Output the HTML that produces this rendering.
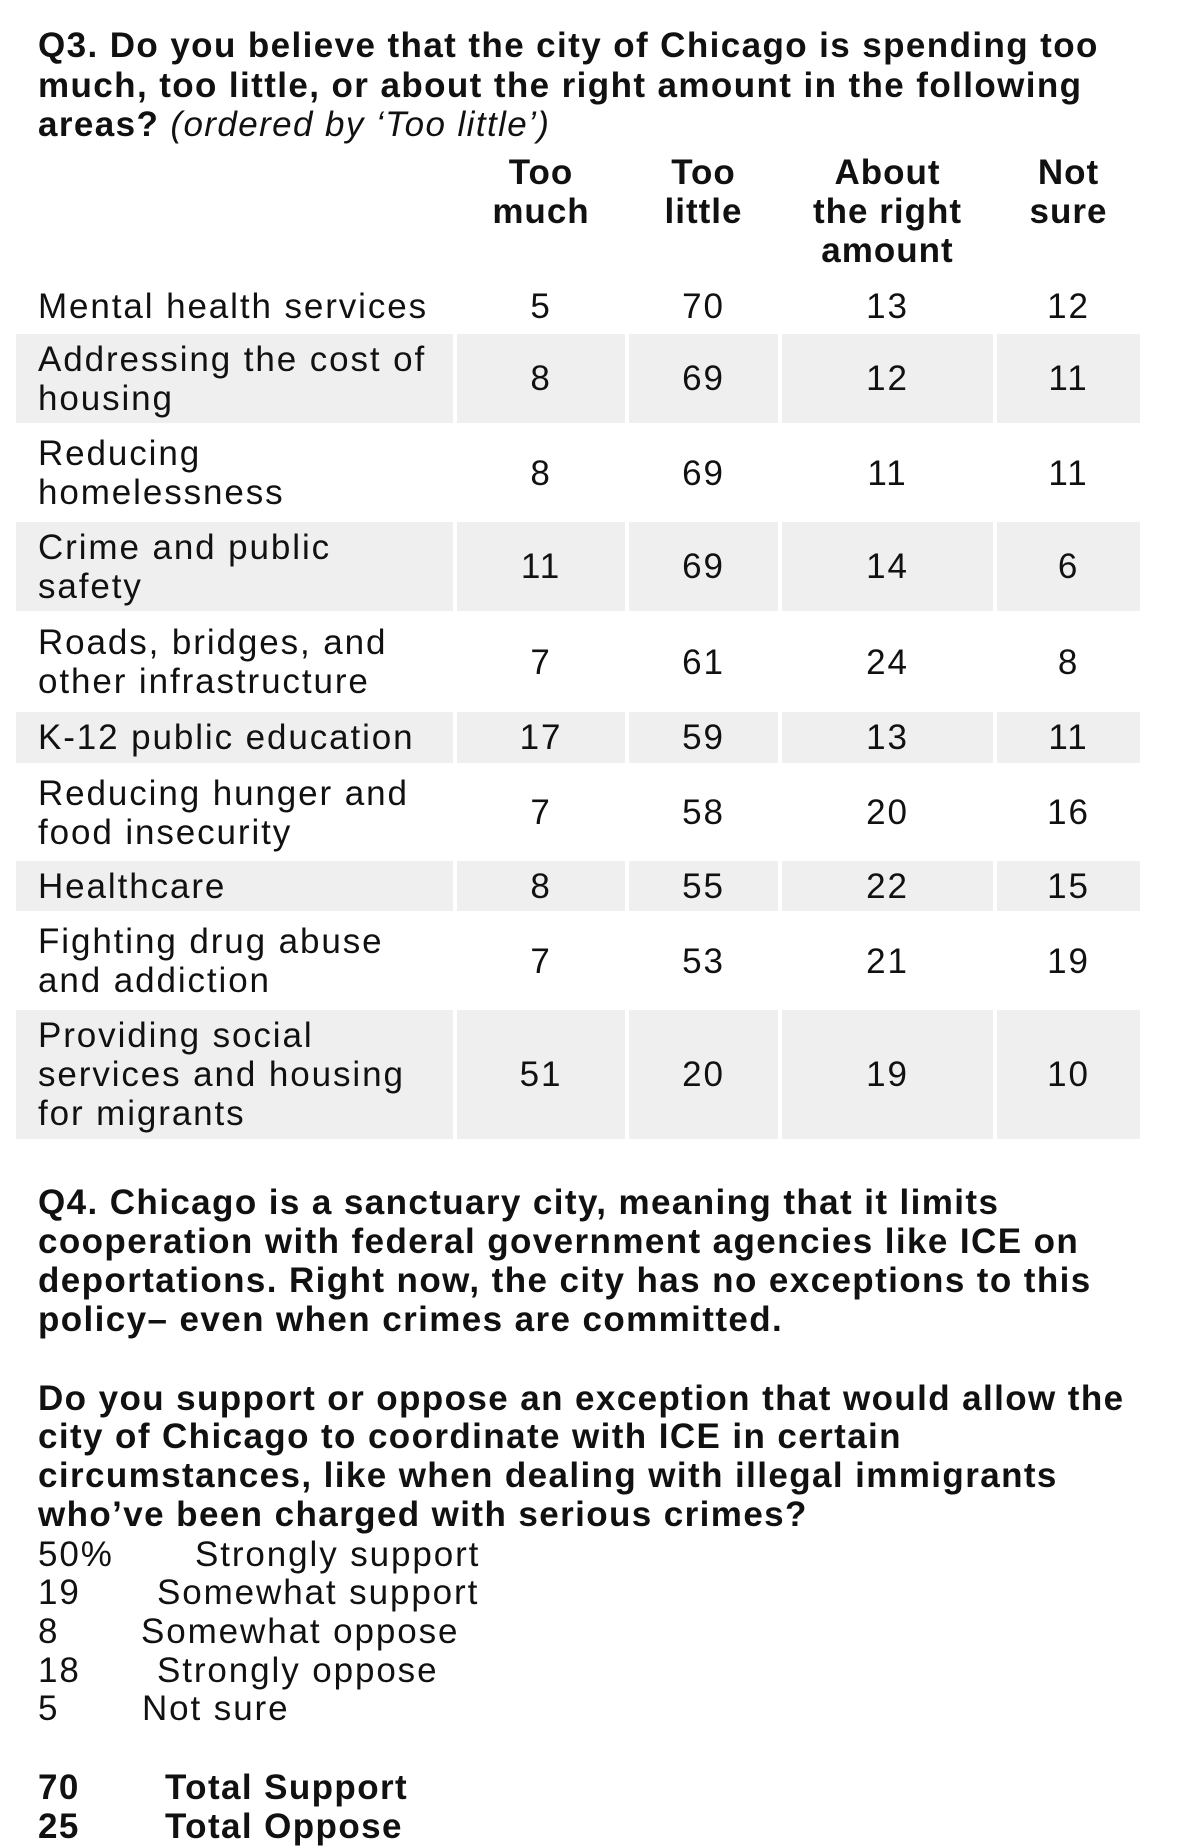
<!DOCTYPE html>
<html><head><meta charset="utf-8"><style>
body{margin:0;width:1179px;height:1846px;background:#fff;position:relative;overflow:hidden;font-family:"Liberation Sans",sans-serif;color:#111}
.l{position:absolute;left:38px;white-space:nowrap;font-size:35px;line-height:39px;height:39px;letter-spacing:1.9px}
.b{font-weight:bold;letter-spacing:1.4px}
.h{position:absolute;font-weight:bold;font-size:35px;line-height:39px;text-align:center;white-space:nowrap;letter-spacing:1px}
.c{position:absolute;display:flex;align-items:center;font-size:35px;line-height:39px;letter-spacing:1.9px}
.s{background:#efefef}
.n{justify-content:center}
.lab{padding-left:22px;box-sizing:border-box;white-space:nowrap}
</style></head><body>
<div class="l b" style="top:26px">Q3. Do you believe that the city of Chicago is spending too</div>
<div class="l b" style="top:66px">much, too little, or about the right amount in the following</div>
<div class="l b" style="top:105px">areas? <i style="font-weight:normal">(ordered by ‘Too little’)</i></div>

<div class="h" style="left:457px;width:168px;top:153px">Too<br>much</div>
<div class="h" style="left:629px;width:149px;top:153px">Too<br>little</div>
<div class="h" style="left:782px;width:211px;top:153px">About<br>the right<br>amount</div>
<div class="h" style="left:997px;width:143px;top:153px">Not<br>sure</div>

<div id="t"></div>
<script>
var rows=[
["Mental health services","5","70","13","12",280,333],
["Addressing the cost of<br>housing","8","69","12","11",334,423],
["Reducing<br>homelessness","8","69","11","11",426,520],
["Crime and public<br>safety","11","69","14","6",522,611],
["Roads, bridges, and<br>other infrastructure","7","61","24","8",614,710],
["K-12 public education","17","59","13","11",712,763],
["Reducing hunger and<br>food insecurity","7","58","20","16",765,860],
["Healthcare","8","55","22","15",861,911],
["Fighting drug abuse<br>and addiction","7","53","21","19",914,1008],
["Providing social<br>services and housing<br>for migrants","51","20","19","10",1010,1139]];
var cols=[[16,453],[457,625],[629,778],[782,993],[997,1140]];
var h="";
rows.forEach(function(r,i){
 var sh=(i%2==1)?" s":"";
 cols.forEach(function(c,j){
  h+='<div class="c'+sh+(j?" n":" lab")+'" style="left:'+c[0]+'px;width:'+(c[1]-c[0])+'px;top:'+r[5]+'px;height:'+(r[6]-r[5])+'px"><div>'+r[j]+'</div></div>';
 });
});
document.getElementById("t").outerHTML=h;
</script>

<div class="l b" style="top:1183px">Q4. Chicago is a sanctuary city, meaning that it limits</div>
<div class="l b" style="top:1222px">cooperation with federal government agencies like ICE on</div>
<div class="l b" style="top:1261px">deportations. Right now, the city has no exceptions to this</div>
<div class="l b" style="top:1300px">policy– even when crimes are committed.</div>
<div class="l b" style="top:1379px">Do you support or oppose an exception that would allow the</div>
<div class="l b" style="top:1417px">city of Chicago to coordinate with ICE in certain</div>
<div class="l b" style="top:1456px">circumstances, like when dealing with illegal immigrants</div>
<div class="l b" style="top:1495px">who’ve been charged with serious crimes?</div>

<div class="l" style="top:1535px">50%</div><div class="l" style="top:1535px;left:195px">Strongly support</div>
<div class="l" style="top:1573px">19</div><div class="l" style="top:1573px;left:157px">Somewhat support</div>
<div class="l" style="top:1612px">8</div><div class="l" style="top:1612px;left:141px">Somewhat oppose</div>
<div class="l" style="top:1651px">18</div><div class="l" style="top:1651px;left:157px">Strongly oppose</div>
<div class="l" style="top:1689px">5</div><div class="l" style="top:1689px;left:142px">Not sure</div>

<div class="l b" style="top:1768px">70</div><div class="l b" style="top:1768px;left:165px">Total Support</div>
<div class="l b" style="top:1807px">25</div><div class="l b" style="top:1807px;left:165px">Total Oppose</div>
</body></html>
